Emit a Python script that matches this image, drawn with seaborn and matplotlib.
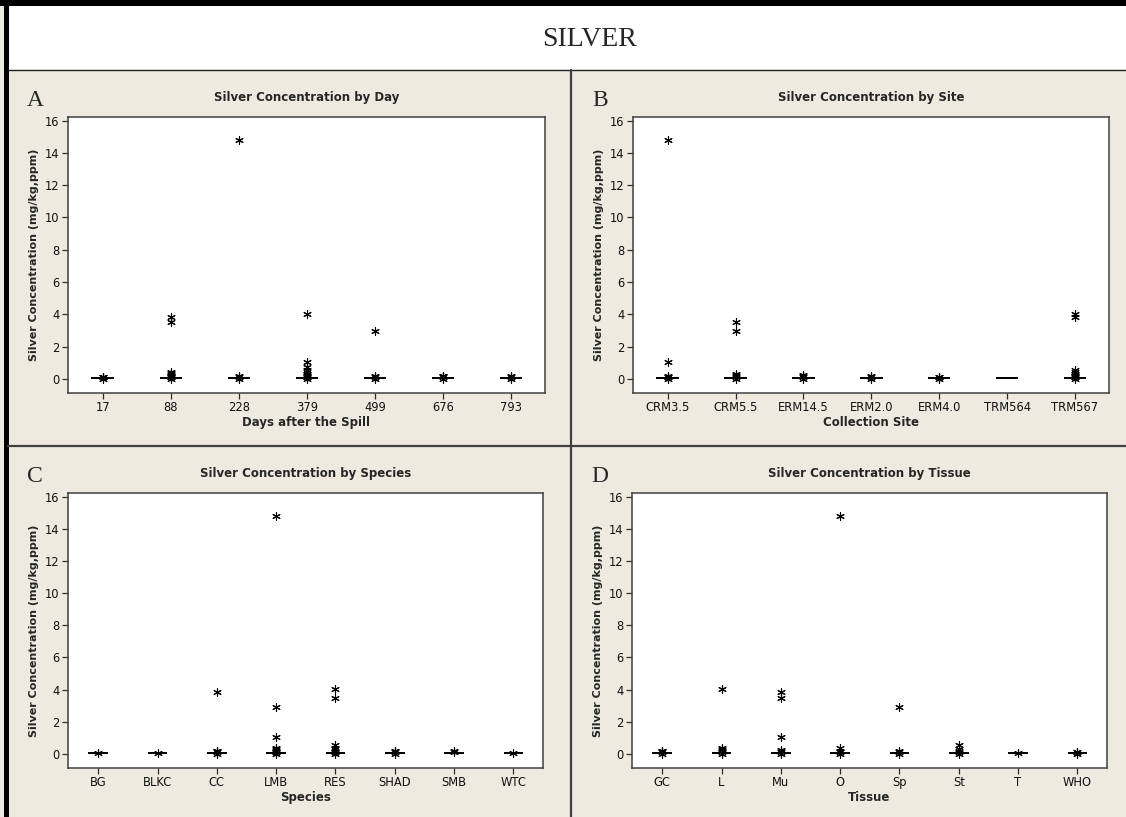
import matplotlib
matplotlib.use('Agg')
import matplotlib.pyplot as plt
import seaborn as sns
import pandas as pd
from matplotlib.lines import Line2D
from matplotlib.patches import Rectangle

# bulk of the readings sit just above zero (the flat box at 0)
base = [0.02, 0.03, 0.04, 0.04, 0.05, 0.05, 0.06, 0.07, 0.08]

day_labels = ['17', '88', '228', '379', '499', '676', '793']
day_outliers = [
    [0.0, 0.1, 0.13, 0.15],
    [0.0, 0.12, 0.15, 0.2, 0.25, 0.3, 0.35, 0.4, 3.5, 3.85],
    [0.0, 0.12, 0.16, 14.8],
    [0.0, 0.12, 0.15, 0.2, 0.25, 0.3, 0.4, 0.55, 0.75, 1.05, 4.05],
    [0.0, 0.12, 0.16, 2.95],
    [0.0, 0.12, 0.16, 0.2],
    [0.0, 0.12, 0.18],
]

site_labels = ['CRM3.5', 'CRM5.5', 'ERM14.5', 'ERM2.0', 'ERM4.0', 'TRM564', 'TRM567']
site_outliers = [
    [0.0, 0.12, 0.15, 0.2, 1.05, 14.8],
    [0.0, 0.12, 0.16, 0.22, 0.3, 2.95, 3.5],
    [0.0, 0.12, 0.18, 0.25],
    [0.0, 0.12, 0.16],
    [0.0, 0.1, 0.13],
    [],
    [0.0, 0.12, 0.15, 0.2, 0.25, 0.3, 0.4, 0.55, 3.85, 4.05],
]

species_labels = ['BG', 'BLKC', 'CC', 'LMB', 'RES', 'SHAD', 'SMB', 'WTC']
species_outliers = [
    [0.05],
    [0.05],
    [0.0, 0.12, 0.16, 0.2, 3.85],
    [0.0, 0.12, 0.15, 0.2, 0.25, 0.3, 0.4, 1.05, 2.95, 14.8],
    [0.0, 0.12, 0.15, 0.2, 0.3, 0.4, 0.55, 3.5, 4.05],
    [0.0, 0.12, 0.16, 0.2],
    [0.14, 0.2],
    [0.07],
]

tissue_labels = ['GC', 'L', 'Mu', 'O', 'Sp', 'St', 'T', 'WHO']
tissue_outliers = [
    [0.0, 0.12, 0.16, 0.2],
    [0.0, 0.12, 0.16, 0.22, 0.3, 0.38, 4.05],
    [0.0, 0.12, 0.16, 0.22, 1.05, 3.5, 3.85],
    [0.0, 0.12, 0.2, 0.35, 14.8],
    [0.0, 0.12, 0.18, 2.95],
    [0.0, 0.12, 0.2, 0.3, 0.55],
    [0.05],
    [0.0, 0.1, 0.13],
]

W, H = 1126, 817
BG = '#EEEAE0'
EDGE = '#404040'

sns.set_style('ticks')
plt.rcParams['font.family'] = ['DejaVu Sans']


def frac_rect(x0, y0, x1, y1):
    return [x0 / W, 1 - y1 / H, (x1 - x0) / W, (y1 - y0) / H]


fig = plt.figure(figsize=(W / 100, H / 100), dpi=100)
fig.patch.set_facecolor(BG)

# frame, title strip and panel dividers
fig.add_artist(Rectangle((8 / W, 1 - 70 / H), 1 - 8 / W, 64 / H, transform=fig.transFigure,
                         facecolor='white', edgecolor='none', zorder=0))
fig.add_artist(Rectangle((0, 1 - 6 / H), 1, 6 / H, transform=fig.transFigure,
                         facecolor='black', edgecolor='none', zorder=1))
fig.add_artist(Rectangle((4 / W, 0), 4.5 / W, 1, transform=fig.transFigure,
                         facecolor='black', edgecolor='none', zorder=1))
fig.add_artist(Line2D([8 / W, 1], [1 - 70 / H] * 2, transform=fig.transFigure, color='#202020', lw=1.0))
fig.add_artist(Line2D([8 / W, 1], [1 - 446 / H] * 2, transform=fig.transFigure, color=EDGE, lw=1.6))
fig.add_artist(Line2D([571 / W] * 2, [0, 1 - 70 / H], transform=fig.transFigure, color=EDGE, lw=1.6))

fig.text(590 / W, 1 - 39 / H, 'SILVER', family='Liberation Serif', fontsize=20,
         ha='center', va='center')

panels = [
    ('A', 'Silver Concentration by Day', 'Days after the Spill', day_labels, day_outliers, (68, 117, 545, 393)),
    ('B', 'Silver Concentration by Site', 'Collection Site', site_labels, site_outliers, (633, 117, 1109, 393)),
    ('C', 'Silver Concentration by Species', 'Species', species_labels, species_outliers, (68, 493, 543, 768)),
    ('D', 'Silver Concentration by Tissue', 'Tissue', tissue_labels, tissue_outliers, (632, 493, 1107, 768)),
]

for letter, title, xlabel, labels, outliers, (x0, y0, x1, y1) in panels:
    ax = fig.add_axes(frac_rect(x0, y0, x1, y1))
    ax.set_facecolor('white')
    box_df = pd.DataFrame({'cat': [lab for lab in labels for _ in base],
                           'val': [v for _ in labels for v in base]})
    out_df = pd.DataFrame({'cat': [lab for lab, vals in zip(labels, outliers) for _ in vals],
                           'val': [v for vals in outliers for v in vals]})
    sns.boxplot(data=box_df, x='cat', y='val', order=labels, ax=ax, width=0.33,
                color='white', linecolor='black', linewidth=1.3, showfliers=False,
                whis=0)
    sns.stripplot(data=out_df, x='cat', y='val', order=labels, ax=ax, jitter=False,
                  marker=(6, 2, 0), size=5.5, color='black', linewidth=0.8,
                  edgecolor='black', zorder=3)
    ax.set_ylim(-0.87, 16.22)
    ax.set_xlim(-0.51, len(labels) - 0.5)
    ax.set_yticks(range(0, 17, 2))
    ax.tick_params(length=4, width=0.9, color='#303030', labelsize=8.3, pad=2, labelcolor='#111111')
    for sp in ax.spines.values():
        sp.set_visible(True)
        sp.set_color(EDGE)
        sp.set_linewidth(1.1)
    ax.set_ylabel('')
    ax.set_xlabel(xlabel, fontsize=8.5, fontweight='bold', labelpad=1.5)

    cx = (x0 + x1) / 2
    fig.text(cx / W, 1 - (y0 - 20) / H, title, fontsize=8.5, fontweight='bold',
             ha='center', va='center')
    fig.text((x0 - 34) / W, 1 - ((y0 + y1) / 2) / H, 'Silver Concentration (mg/kg,ppm)',
             fontsize=8, fontweight='bold', rotation=90, ha='center', va='center')
    fig.text((x0 - 41) / W, 1 - (y0 - 17) / H, letter, family='Liberation Serif',
             fontsize=17, ha='left', va='center')

fig.savefig('out.png', dpi=100, facecolor=BG)
